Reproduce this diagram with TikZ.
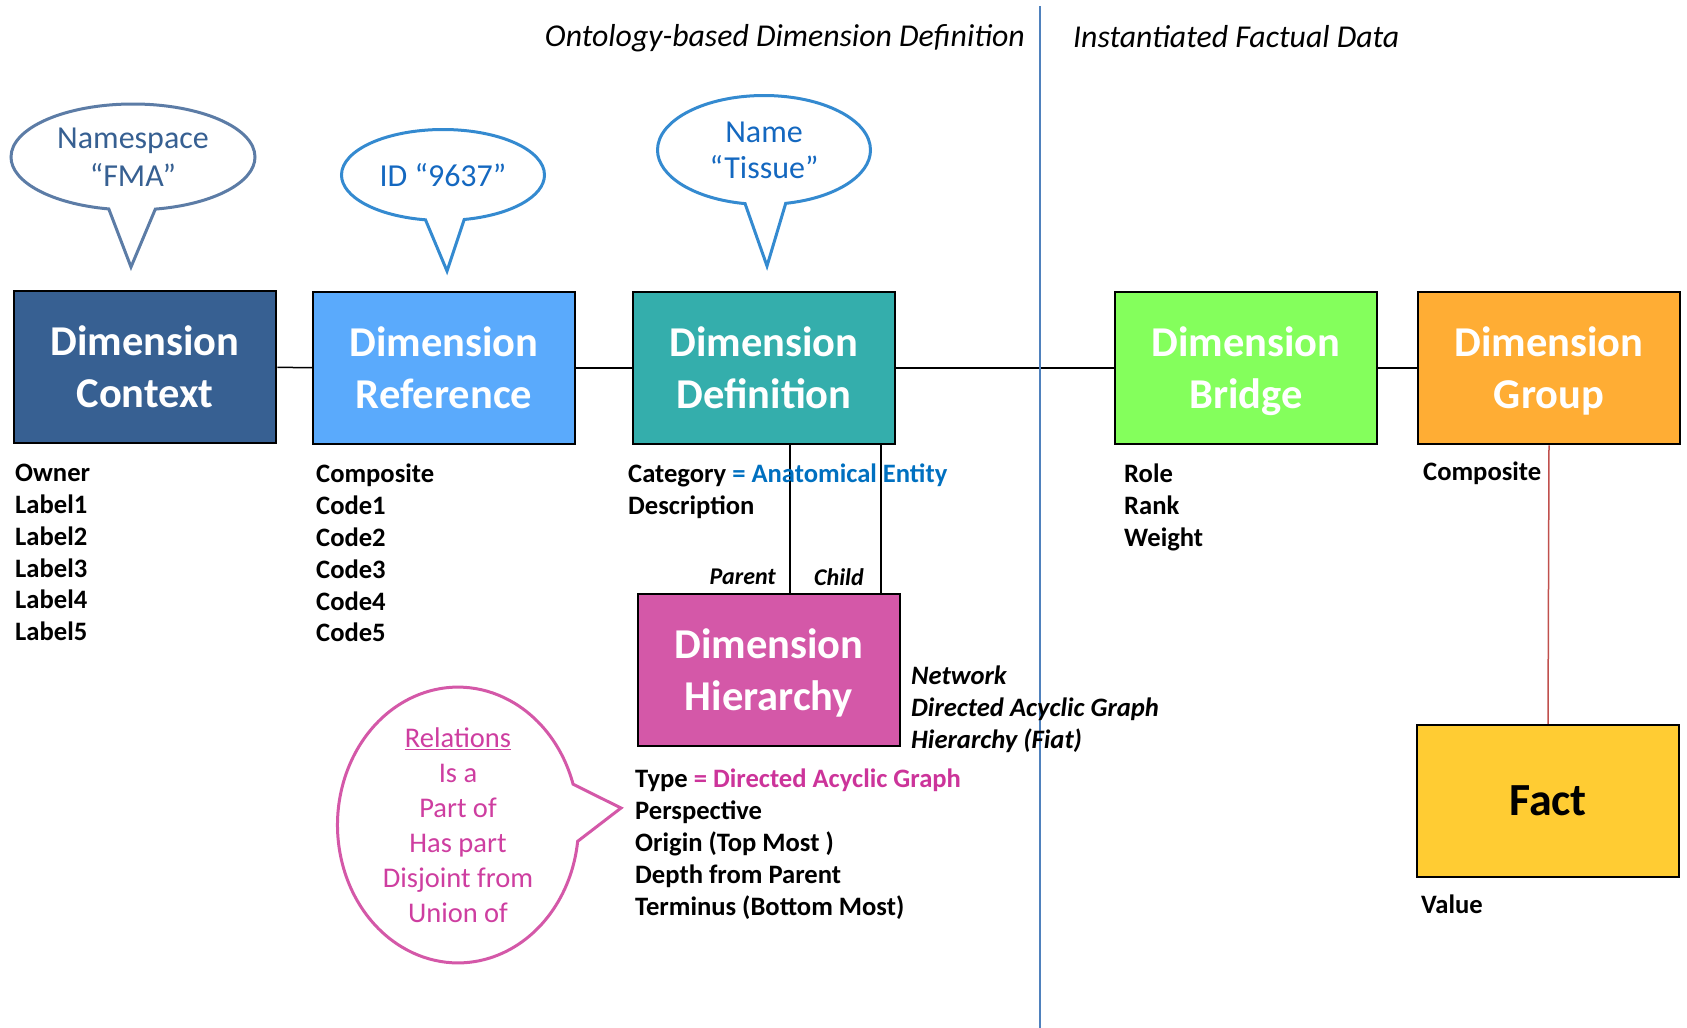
\documentclass[tikz,border=0pt]{standalone}
\usepackage{fontspec}
\setmainfont{Carlito}
\usepackage{xcolor}
\usetikzlibrary{shapes.callouts,shapes.geometric,positioning}

\definecolor{ctxblue}{RGB}{55,96,146}
\definecolor{refblue}{RGB}{90,170,252}
\definecolor{defteal}{RGB}{52,174,172}
\definecolor{hierpink}{RGB}{212,88,168}
\definecolor{bridgegreen}{RGB}{132,255,92}
\definecolor{grouporange}{RGB}{255,173,52}
\definecolor{factyellow}{RGB}{255,204,51}
\definecolor{nsline}{RGB}{92,124,166}
\definecolor{idline}{RGB}{52,138,208}
\definecolor{idtext}{RGB}{20,104,192}
\definecolor{reltext}{RGB}{206,62,160}
\definecolor{entityblue}{RGB}{0,112,192}
\definecolor{dagpink}{RGB}{204,52,154}
\definecolor{divblue}{RGB}{79,129,189}
\definecolor{factline}{RGB}{192,80,77}

\begin{document}
\begin{tikzpicture}[x=1pt,y=-1pt,
  dimbox/.style={draw=black,line width=2.5pt,minimum width=262pt,minimum height=152pt,
    inner sep=0pt,align=center,text=white,text depth=0pt,font=\fontsize{42.5}{52}\selectfont\bfseries},
  attr/.style={anchor=north west,inner sep=0pt,align=left,
    font=\fontsize{26.6}{31.8}\selectfont\bfseries},
  bubble/.style={ellipse callout,draw,line width=3pt,fill=white,inner sep=0pt,
    align=center,callout pointer arc=22},
  link/.style={line width=1.5pt}]
	\useasboundingbox (0,0) rectangle (1687,1028);
	% headings and divider
	\node[anchor=east,inner sep=0pt,font=\fontsize{31.8}{36}\selectfont\itshape] (ontohead) at (1025,38) {Ontology-based Dimension Definition};
	\node[anchor=west,inner sep=0pt,font=\fontsize{31.8}{36}\selectfont\itshape] (facthead) at (1073,37) {Instantiated Factual Data};
	\coordinate (divtop) at (1040,6);
	\coordinate (divbot) at (1040,1028);
	% dimension boxes
	\node[dimbox,fill=ctxblue] (ctx) at (145,367) {Dimension\\Context};
	\node[dimbox,fill=refblue] (ref) at (444,368) {Dimension\\Reference};
	\node[dimbox,fill=defteal] (def) at (764,368) {Dimension\\Definition};
	\node[dimbox,fill=bridgegreen] (bridge) at (1246,368) {Dimension\\Bridge};
	\node[dimbox,fill=grouporange] (grp) at (1549,368) {Dimension\\Group};
	\node[dimbox,fill=hierpink] (hier) at (769,670) {Dimension\\Hierarchy};
	\node[dimbox,fill=factyellow,text=black,font=\fontsize{46}{54}\selectfont\bfseries] (fact) at (1548,801) {Fact};
	% connectors
	\draw[link] (ctx) -- (ref);
	\draw[link] (ref) -- (def);
	\draw[link] (def) -- (bridge);
	\draw[link] (bridge) -- (grp);
	\draw[link,factline] (grp.south) -- (fact.north);
	\coordinate (parentx) at (790,0);
	\coordinate (childx) at (881,0);
	\draw[link] (def.south -| parentx) -- (hier.north -| parentx);
	\draw[link] (def.south -| childx) -- (hier.north -| childx);
	\draw[line width=2pt,divblue] (divtop) -- (divbot);
	\node[anchor=east,inner sep=0pt,font=\fontsize{24}{28}\selectfont\bfseries\itshape] (parentlbl) at (776,577) {Parent};
	\node[anchor=west,inner sep=0pt,font=\fontsize{24}{28}\selectfont\bfseries\itshape] (childlbl) at (814,577) {Child};
	% callouts
	\node[bubble,draw=nsline,text=ctxblue,minimum width=244pt,minimum height=106pt,
	  font=\fontsize{32}{38.5}\selectfont,callout absolute pointer={(131,267)}] (nsbub) at (133,157) {Namespace\\“FMA”};
	\node[bubble,draw=idline,text=idtext,minimum width=203pt,minimum height=91pt,
	  font=\fontsize{32}{37}\selectfont,callout absolute pointer={(447,271)}] (idbub) at (443,175) {ID “9637”};
	\node[bubble,draw=idline,text=idtext,minimum width=213pt,minimum height=109pt,
	  font=\fontsize{32}{36}\selectfont,callout absolute pointer={(767,266)}] (namebub) at (764,150) {Name\\“Tissue”};
	\node[bubble,draw=hierpink,text=reltext,minimum width=241pt,minimum height=259pt,callout pointer arc=24,
	  font=\fontsize{28.5}{35}\selectfont,callout absolute pointer={(621,808)}] (relbub) at (458,825)
	  {\underline{Relations}\\Is a\\Part of\\Has part\\Disjoint from\\Union of};
	% attribute lists
	\node[attr] (ctxattr) at (15,464) {Owner\\Label1\\Label2\\Label3\\Label4\\Label5};
	\node[attr] (refattr) at (316,464) {Composite\\Code1\\Code2\\Code3\\Code4\\Code5};
	\node[attr] (defattr) at (628,464) {Category \textcolor{entityblue}{= Anatomical Entity}\\Description};
	\node[attr] (bridgeattr) at (1124,464) {Role\\Rank\\Weight};
	\node[attr] (grpattr) at (1423,462) {Composite};
	\node[attr] (factattr) at (1421,895) {Value};
	\node[attr] (hierattr) at (635,769) {Type \textcolor{dagpink}{= Directed Acyclic Graph}\\Perspective\\Origin (Top Most )\\Depth from Parent\\Terminus (Bottom Most)};
	\node[attr,font=\fontsize{26.6}{31.8}\selectfont\bfseries\itshape] (kindattr) at (911,666) {Network\\Directed Acyclic Graph\\Hierarchy (Fiat)};
\end{tikzpicture}
\end{document}
